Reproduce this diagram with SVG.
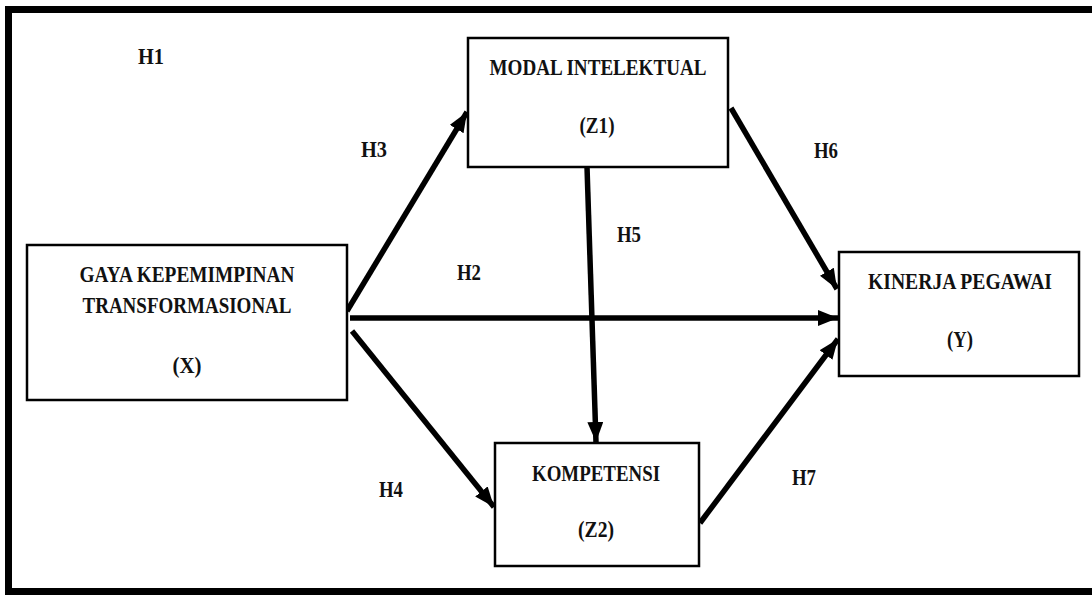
<svg xmlns="http://www.w3.org/2000/svg" width="1092" height="595" viewBox="0 0 1092 595">
<style>
.box{fill:#fff;stroke:#000;stroke-width:2.5}
.t{font-family:"Liberation Serif","Times New Roman",serif;font-weight:bold;font-size:23px;fill:#111;text-anchor:middle}
.c{stroke:#000;stroke-width:5.5;fill:none;marker-end:url(#ah)}
</style>
<defs>
<marker id="ah" markerUnits="userSpaceOnUse" markerWidth="22" markerHeight="18" refX="20" refY="8" orient="auto">
<path d="M0,0 L20,8 L0,16 z" fill="#000"/>
</marker>
</defs>
<rect x="0" y="0" width="1092" height="595" fill="#fff"/>
<rect x="8.5" y="9.5" width="1100" height="582" fill="none" stroke="#000" stroke-width="7"/>
<g id="connectors">
<line class="c" x1="347" y1="311" x2="467" y2="112"/>
<line class="c" x1="350" y1="318" x2="838" y2="318"/>
<line class="c" x1="352" y1="331" x2="494" y2="507"/>
<line class="c" x1="587" y1="167" x2="596" y2="442"/>
<line class="c" x1="731" y1="108" x2="837" y2="289"/>
<line class="c" x1="700" y1="523" x2="838" y2="339"/>
</g>
<g id="node-x">
<rect class="box" x="27" y="245" width="320" height="155"/>
<text class="t" x="187" y="282" textLength="215" lengthAdjust="spacingAndGlyphs">GAYA KEPEMIMPINAN</text>
<text class="t" x="187" y="313" textLength="209" lengthAdjust="spacingAndGlyphs">TRANSFORMASIONAL</text>
<text class="t" x="187" y="373" textLength="29" lengthAdjust="spacingAndGlyphs">(X)</text>
</g>
<g id="node-z1">
<rect class="box" x="468" y="38" width="260" height="129"/>
<text class="t" x="598" y="75" textLength="217" lengthAdjust="spacingAndGlyphs">MODAL INTELEKTUAL</text>
<text class="t" x="597" y="133" textLength="35" lengthAdjust="spacingAndGlyphs">(Z1)</text>
</g>
<g id="node-y">
<rect class="box" x="839" y="252" width="240" height="124"/>
<text class="t" x="960" y="289" textLength="184" lengthAdjust="spacingAndGlyphs">KINERJA PEGAWAI</text>
<text class="t" x="960" y="347" textLength="26" lengthAdjust="spacingAndGlyphs">(Y)</text>
</g>
<g id="node-z2">
<rect class="box" x="495" y="443" width="204" height="123"/>
<text class="t" x="596" y="481" textLength="128" lengthAdjust="spacingAndGlyphs">KOMPETENSI</text>
<text class="t" x="596" y="537" textLength="36" lengthAdjust="spacingAndGlyphs">(Z2)</text>
</g>
<g id="labels">
<text class="t" x="151" y="64" textLength="26" lengthAdjust="spacingAndGlyphs">H1</text>
<text class="t" x="374" y="157" textLength="26" lengthAdjust="spacingAndGlyphs">H3</text>
<text class="t" x="469" y="280" textLength="24" lengthAdjust="spacingAndGlyphs">H2</text>
<text class="t" x="629" y="242" textLength="24" lengthAdjust="spacingAndGlyphs">H5</text>
<text class="t" x="826" y="158" textLength="24" lengthAdjust="spacingAndGlyphs">H6</text>
<text class="t" x="391" y="497" textLength="24" lengthAdjust="spacingAndGlyphs">H4</text>
<text class="t" x="804" y="485" textLength="24" lengthAdjust="spacingAndGlyphs">H7</text>
</g>
</svg>
